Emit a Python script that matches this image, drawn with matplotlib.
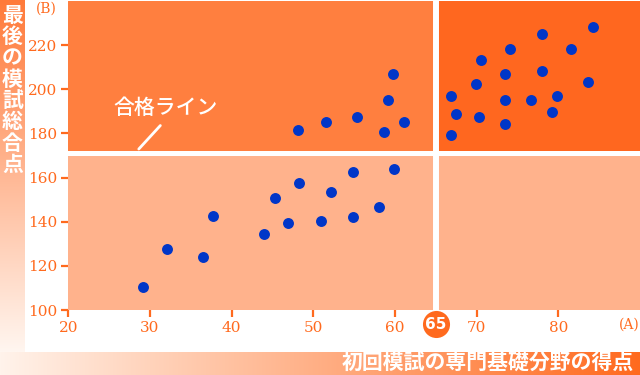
import numpy as np
import matplotlib
matplotlib.use('Agg')
import matplotlib.pyplot as plt
from matplotlib.patches import Rectangle
from matplotlib.transforms import blended_transform_factory

# data
first_exam = [29.1, 32.1, 36.5, 37.7, 44.0, 45.3, 46.9, 48.3, 51.0, 52.2, 54.8, 54.8, 58.1, 59.9,
              48.1, 51.6, 55.4, 58.6, 59.2, 59.8, 61.1,
              66.9, 67.5, 66.9, 69.9, 70.5, 70.3, 73.5, 74.1, 73.5, 73.5, 76.7, 78.0, 78.0,
              79.8, 79.2, 81.6, 83.6, 84.2]
last_exam = [110.3, 127.6, 124.1, 142.4, 134.3, 150.6, 139.5, 157.4, 140.2, 153.3, 162.5, 142.3, 146.8, 163.7,
             181.7, 185.1, 187.3, 180.6, 195.1, 206.9, 185.1,
             197.1, 188.9, 179.4, 202.2, 213.1, 187.3, 206.9, 218.2, 195.2, 184.2, 195.2, 225.0, 208.4,
             197.1, 189.6, 218.2, 203.4, 228.3]
x_ticks = [20, 30, 40, 50, 60, 70, 80]
y_ticks = [100, 120, 140, 160, 180, 200, 220]
pass_x = 65
pass_y = 171

ORANGE = '#ff6a1e'
UL = '#ff7f3f'
UR = '#ff671f'
LOW = '#ffb28c'
DOT = '#0036c8'
CJK = ['Noto Sans CJK JP', 'DejaVu Sans']

W, H = 640, 375
fig = plt.figure(figsize=(6.4, 3.75), dpi=100)

# left gradient band
band = fig.add_axes([0, 23 / H, 25 / W, 352 / H])
grad = np.linspace(0, 1, 256)[:, None]
c_top = np.array([255, 122, 58]) / 255
c_bot = np.array([255, 246, 240]) / 255
img = c_top[None, None, :] * (1 - grad[:, :, None]) + c_bot[None, None, :] * grad[:, :, None]
band.imshow(img, aspect='auto', extent=[0, 1, 0, 1])
band.axis('off')

# bottom gradient band
band2 = fig.add_axes([0, 0, 1, 23 / H])
gx = np.linspace(0, 1, 512)[None, :]
c_l = np.array([255, 243, 235]) / 255
c_r = np.array([255, 106, 30]) / 255
img2 = c_l[None, None, :] * (1 - gx[:, :, None]) + c_r[None, None, :] * gx[:, :, None]
band2.imshow(img2, aspect='auto', extent=[0, 1, 0, 1])
band2.axis('off')

ax = fig.add_axes([68.3 / W, 65 / H, (W - 68.3) / W, 309 / H])
ax.set_xlim(20, 90)
ax.set_ylim(100, 240)

ax.add_patch(Rectangle((20, 100), 70, pass_y - 100, color=LOW, zorder=0))
ax.add_patch(Rectangle((20, pass_y), pass_x - 20, 240 - pass_y, color=UL, zorder=0))
ax.add_patch(Rectangle((pass_x, pass_y), 90 - pass_x, 240 - pass_y, color=UR, zorder=0))
ax.axhline(pass_y, color='white', lw=3.6, zorder=1)
ax.axvline(pass_x, color='white', lw=4.3, zorder=1)

ax.scatter(first_exam, last_exam, s=62, color=DOT, zorder=3, linewidths=0)

for s in ax.spines.values():
    s.set_visible(False)
ax.set_xticks(x_ticks)
ax.set_yticks(y_ticks)
ax.tick_params(colors=ORANGE, length=5, width=1.6, pad=3, labelsize=11)
for lab in ax.get_xticklabels() + ax.get_yticklabels():
    lab.set_family('DejaVu Serif')

# pass-line callout
ax.annotate('', xy=(28.4, pass_y + 1), xytext=(31.5, 184.5),
            arrowprops=dict(arrowstyle='-', color='white', lw=2))
ax.text(25.5, 191.5, '合格ライン', color='white', fontsize=15, fontweight='medium', family=CJK,
        ha='left', va='center')

# 65 marker below axis
tr = blended_transform_factory(ax.transData, ax.transAxes)
ax.scatter([pass_x], [-0.046], s=380, color=ORANGE, transform=tr, clip_on=False, zorder=5, linewidths=0)
ax.text(pass_x, -0.046, '65', transform=tr, color='white', fontsize=11, fontweight='bold',
        ha='center', va='center', zorder=6)

fig.text(629 / W, 1 - 325 / H, '(A)', color=ORANGE, fontsize=10, family='DejaVu Serif', ha='center', va='center')
fig.text(46 / W, 1 - 9 / H, '(B)', color=ORANGE, fontsize=10, family='DejaVu Serif', ha='center', va='center')

for i, ch in enumerate('最後の模試総合点'):
    fig.text(12.5 / W, 1 - (15 + i * 21.4) / H, ch, color='white', fontsize=15, fontweight='bold',
             family=CJK, ha='center', va='center')

fig.text(634 / W, 1 - 363 / H, '初回模試の専門基礎分野の得点', color='white', fontsize=15,
         fontweight='bold', family=CJK, ha='right', va='center')

fig.savefig('out.png', dpi=100)
